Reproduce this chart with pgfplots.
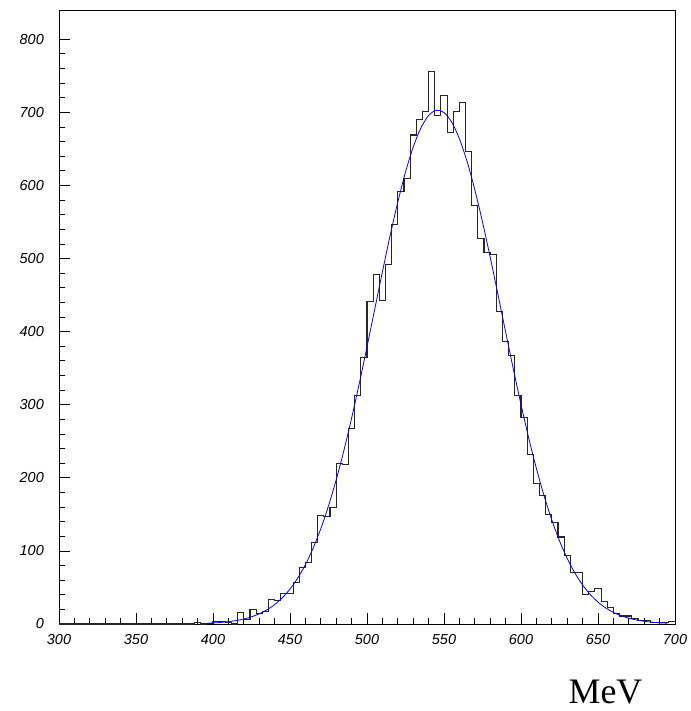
\documentclass[border=0pt]{standalone}
\usepackage{pgfplots}
\pgfplotsset{compat=1.18}
\usepackage{fontspec}
\setmainfont{Liberation Serif}
\setsansfont{Liberation Sans}

\begin{document}
\begin{tikzpicture}
\useasboundingbox (-59bp,-87bp) rectangle (632bp,624bp);
\begin{axis}[
    at={(0,0)}, anchor=south west,
    scale only axis,
    width=616bp, height=614bp,
    xmin=300, xmax=700,
    ymin=0, ymax=840,
    xtick={300,350,...,700},
    ytick={0,100,...,800},
    minor x tick num=4,
    minor y tick num=4,
    xtick pos=left, ytick pos=left,
    tick align=inside,
    major tick length=11bp,
    minor tick length=6bp,
    axis line style={line width=0.9bp},
    every tick/.style={black, line width=0.8bp},
    /pgf/number format/assume math mode=true,
    /pgf/number format/1000 sep={},
    tick label style={font=\fontsize{14.5}{16}\selectfont\sffamily\itshape, inner sep=0pt},
    xticklabel style={yshift=-10bp},
    yticklabel style={xshift=-15bp},
]
% histogram, 4 MeV bins
\addplot[const plot, black!85, line width=1.1bp]
coordinates{(300,0)(388,2)(392,0)(396,1)(400,3)(404,3)(408,2)(412,0)
(416,16)(420,6)(424,20)(428,14)(432,17)(436,34)(440,32)(444,42)(448,42)
(452,57)(456,77)(460,84)(464,112)(468,149)(472,147)(476,159)(480,220)
(484,218)(488,268)(492,312)(496,364)(500,441)(504,478)(508,442)(512,492)
(516,546)(520,592)(524,610)(528,669)(532,690)(536,701)(540,756)(544,696)
(548,723)(552,672)(556,701)(560,713)(564,646)(568,573)(572,527)(576,508)
(580,506)(584,427)(588,387)(592,367)(596,313)(600,283)(604,232)(608,192)
(612,176)(616,150)(620,139)(624,119)(628,94)(632,71)(636,71)(640,40)
(644,44)(648,48)(652,31)(656,23)(660,14)(664,11)(668,11)(672,8)(676,5)
(680,5)(684,2)(688,2)(692,2)(696,3)(700,3)};

% gaussian fit
\addplot[blue, line width=0.8bp, smooth]
coordinates{(396,0.99)(400,1.40)(405,2.13)(410,3.19)(415,4.71)(420,6.85)
(425,9.82)(430,13.87)(435,19.33)(440,26.5)(445,35.9)(450,47.8)(455,62.8)
(460,81.2)(465,103.7)(470,130.4)(475,161.6)(480,197.3)(485,237.4)
(490,281.6)(495,329.1)(500,379.2)(505,430.5)(510,481.7)(515,531.2)
(520,577.2)(525,618.2)(530,652.4)(535,678.6)(540,695.7)(545,702.8)
(550,699.7)(555,686.6)(560,663.9)(565,632.7)(570,594.2)(575,550.1)
(580,501.8)(585,451.1)(590,399.7)(595,349.0)(600,300.3)(605,254.6)
(610,212.8)(615,175.3)(620,142.3)(625,113.8)(630,89.8)(635,69.7)
(640,53.4)(645,40.3)(650,30.0)(655,22.0)(660,15.9)(665,11.3)(670,7.92)
(675,5.48)(680,3.73)(685,2.51)(690,1.66)(695,1.08)};
\end{axis}
\node[anchor=base, font=\fontsize{36}{40}\selectfont] at (546.5bp,-79.5bp) {MeV};
\end{tikzpicture}
\end{document}
